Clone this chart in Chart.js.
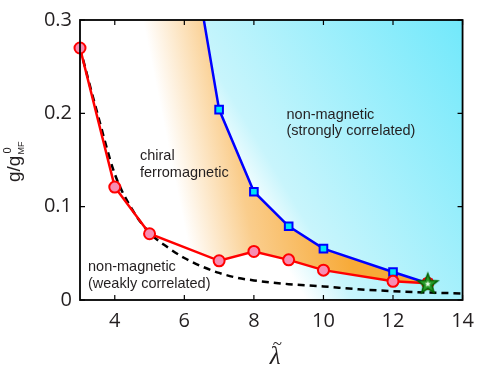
<!DOCTYPE html>
<html>
<head>
<meta charset="utf-8">
<script src="https://cdn.jsdelivr.net/npm/chart.js@4.4.1/dist/chart.umd.min.js"></script>
<style>
  html, body { margin: 0; padding: 0; background: #fff; }
</style>
</head>
<body>
<canvas id="phaseChart" width="483" height="373"></canvas>
<script>
// valores
const lambdaRed = [3, 4, 5, 7, 8, 9, 10, 12, 13];
const gRed = [0.270, 0.121, 0.071, 0.042, 0.052, 0.043, 0.032, 0.020, 0.018];

// o primeiro ponto fica acima do topo (a linha sai pelo topo do grafico)
const lambdaBlue = [4.5, 7, 8, 9, 10, 12, 13];
const gBlue = [0.75, 0.204, 0.116, 0.079, 0.055, 0.030, 0.018];

const lambdaDash = [3, 3.5, 4, 4.5, 5, 5.5, 6, 6.5, 7, 7.5, 8, 9, 10, 11, 12, 13, 14];
const gDash = [0.270, 0.200, 0.135, 0.097, 0.072, 0.057, 0.045, 0.036, 0.029, 0.024, 0.021, 0.017, 0.0145, 0.0115, 0.0095, 0.008, 0.007];

const lambdaStar = [13];
const gStar = [0.018];

const xTicks = [4, 6, 8, 10, 12, 14];
const yTicks = [0, 0.1, 0.2, 0.3];

const textColor = '#231f20';

function toPoints(xs, ys) {
    return xs.map((x, i) => ({ x: x, y: ys[i] }));
}

// fundo ciano (branco a esquerda/embaixo -> ciano em cima a direita)
function cyanGradient(ctx, area) {
    const g = ctx.createLinearGradient(area.left + 50, area.top - 14, area.left + 297, area.top - 162);
    g.addColorStop(0, '#ffffff');
    g.addColorStop(0.14, '#c8f5fc');
    g.addColorStop(1, '#6ee8fb');
    return g;
}

// regiao laranja (ferromagnetica)
function orangeGradient(ctx, area) {
    const g = ctx.createLinearGradient(area.left + 60, area.top - 14, area.left + 214, area.top - 45);
    g.addColorStop(0, '#ffffff');
    g.addColorStop(0.41, '#facd8c');
    g.addColorStop(1, '#f7aa38');
    return g;
}

function scriptedGradient(fn) {
    return function (context) {
        const chart = context.chart;
        if (!chart.chartArea) return 'rgba(0,0,0,0)';
        return fn(chart.ctx, chart.chartArea);
    };
}

// estrela verde como marcador
function makeStar() {
    const c = document.createElement('canvas');
    c.width = 24; c.height = 24;
    const s = c.getContext('2d');
    function star(r1, r2) {
        s.beginPath();
        for (let i = 0; i < 10; i++) {
            const r = i % 2 === 0 ? r1 : r2;
            const a = -Math.PI / 2 + i * Math.PI / 5;
            s.lineTo(12 + r * Math.cos(a), 12.8 + r * Math.sin(a));
        }
        s.closePath();
    }
    star(10.5, 4.5);
    s.fillStyle = '#2a9a2a';
    s.fill();
    s.lineWidth = 1.5;
    s.strokeStyle = '#006400';
    s.stroke();
    star(3.2, 1.4);
    s.fillStyle = '#e8ffe8';
    s.fill();
    return c;
}

const extrasPlugin = {
    id: 'extras',
    beforeDraw(chart) {
        const ctx = chart.ctx;
        const a = chart.chartArea;
        ctx.save();
        ctx.fillStyle = cyanGradient(ctx, a);
        ctx.fillRect(a.left, a.top, a.right - a.left, a.bottom - a.top);
        ctx.restore();
    },
    afterDraw(chart) {
        const ctx = chart.ctx;
        const a = chart.chartArea;
        const xs = chart.scales.x;
        const ys = chart.scales.y;
        ctx.save();

        // ticks para dentro
        ctx.strokeStyle = '#000';
        ctx.lineWidth = 1.2;
        ctx.beginPath();
        xTicks.forEach(v => {
            const px = xs.getPixelForValue(v);
            ctx.moveTo(px, a.bottom); ctx.lineTo(px, a.bottom - 5);
            ctx.moveTo(px, a.top); ctx.lineTo(px, a.top + 5);
        });
        yTicks.forEach(v => {
            const py = ys.getPixelForValue(v);
            ctx.moveTo(a.left, py); ctx.lineTo(a.left + 5, py);
            ctx.moveTo(a.right, py); ctx.lineTo(a.right - 5, py);
        });
        ctx.stroke();

        // moldura
        ctx.lineWidth = 1.8;
        ctx.strokeRect(a.left, a.top, a.right - a.left, a.bottom - a.top);

        // textos das regioes
        ctx.fillStyle = textColor;
        ctx.font = '14.5px "Liberation Sans", Arial, sans-serif';
        ctx.textAlign = 'left';
        ctx.textBaseline = 'alphabetic';
        ctx.fillText('chiral', 140, 160);
        ctx.fillText('ferromagnetic', 140, 176.5);
        ctx.fillText('non-magnetic', 286.5, 118.5);
        ctx.fillText('(strongly correlated)', 286.5, 135);
        ctx.fillText('non-magnetic', 88, 271);
        ctx.fillText('(weakly correlated)', 88, 288);

        // titulo do eixo x (lambda com til)
        const cx = (a.left + a.right) / 2 + 4;
        ctx.textAlign = 'center';
        ctx.font = 'italic 25px "Liberation Serif", "DejaVu Serif", serif';
        ctx.fillText('\u03bb', cx, 364);
        ctx.font = '17px "Liberation Serif", "DejaVu Serif", serif';
        ctx.textBaseline = 'middle';
        ctx.fillText('~', cx + 2, 345);
        ctx.textBaseline = 'alphabetic';

        // titulo do eixo y: g/g^0_MF
        ctx.translate(20, 182);
        ctx.rotate(-Math.PI / 2);
        ctx.textAlign = 'left';
        ctx.font = '19px "Liberation Sans", Arial, sans-serif';
        ctx.fillText('g/g', 0, 0);
        const w = ctx.measureText('g/g').width;
        ctx.font = '11px "Liberation Sans", Arial, sans-serif';
        ctx.fillText('0', w + 2, -9);
        ctx.font = '9px "Liberation Sans", Arial, sans-serif';
        ctx.fillText('MF', w + 1, 4);

        ctx.restore();
    }
};

function createPhaseChart() {
    const ctx = document.getElementById('phaseChart').getContext('2d');
    const tickFont = { family: '"Open Sans", sans-serif', size: 20 };

    new Chart(ctx, {
        type: 'line',
        data: {
            datasets: [
                {
                    label: 'ponto critico',
                    data: toPoints(lambdaStar, gStar),
                    showLine: false,
                    pointStyle: makeStar(),
                    pointRadius: 11,
                    clip: false
                },
                {
                    label: 'transicao',
                    data: toPoints(lambdaRed, gRed),
                    borderColor: '#ff0000',
                    borderWidth: 2.5,
                    pointStyle: 'circle',
                    pointRadius: 5.5,
                    pointBorderWidth: 2,
                    pointBackgroundColor: '#f78db2',
                    pointBorderColor: '#ff0000',
                    fill: false,
                    clip: false
                },
                {
                    label: 'campo medio',
                    data: toPoints(lambdaDash, gDash),
                    borderColor: '#000000',
                    borderWidth: 2.5,
                    borderDash: [7, 5],
                    pointRadius: 0,
                    cubicInterpolationMode: 'monotone',
                    fill: false
                },
                {
                    label: 'nao magnetico',
                    data: toPoints(lambdaBlue, gBlue),
                    borderColor: '#0000ff',
                    borderWidth: 2.5,
                    backgroundColor: scriptedGradient(cyanGradient),
                    fill: 'end',
                    pointStyle: 'rect',
                    pointRadius: c => (c.parsed && c.parsed.y > 0.3 ? 0 : 5.4),
                    pointBorderWidth: 2,
                    pointBackgroundColor: '#00e6f6',
                    pointBorderColor: '#0000ff'
                },
                {
                    // area laranja entre a linha vermelha e a azul
                    label: 'ferromagnetico',
                    data: toPoints(lambdaRed, gRed),
                    borderWidth: 0,
                    borderColor: 'rgba(0,0,0,0)',
                    backgroundColor: scriptedGradient(orangeGradient),
                    fill: 3,
                    pointRadius: 0
                }
            ]
        },
        options: {
            responsive: false,
            animation: false,
            events: [],
            layout: { padding: { top: 14, right: 9, left: 0, bottom: 0 } },
            plugins: {
                legend: { display: false },
                tooltip: { enabled: false },
                filler: { drawTime: 'beforeDatasetsDraw' }
            },
            scales: {
                x: {
                    type: 'linear',
                    min: 3,
                    max: 14,
                    grid: { display: false, drawTicks: false },
                    border: { display: false },
                    ticks: {
                        padding: 9,
                        font: tickFont,
                        color: textColor,
                        maxRotation: 0,
                        autoSkip: false,
                        callback: v => String(v)
                    },
                    afterBuildTicks: s => { s.ticks = xTicks.map(v => ({ value: v })); },
                    afterFit: s => { s.height = 73; }
                },
                y: {
                    type: 'linear',
                    min: 0,
                    max: 0.3,
                    grid: { display: false, drawTicks: false },
                    border: { display: false },
                    ticks: {
                        padding: 8,
                        font: tickFont,
                        color: textColor,
                        callback: v => (v === 0 ? '0' : v.toFixed(1))
                    },
                    afterBuildTicks: s => { s.ticks = yTicks.map(v => ({ value: v })); },
                    afterFit: s => { s.width = 80; }
                }
            }
        },
        plugins: [extrasPlugin]
    });
}

createPhaseChart();
</script>
</body>
</html>
